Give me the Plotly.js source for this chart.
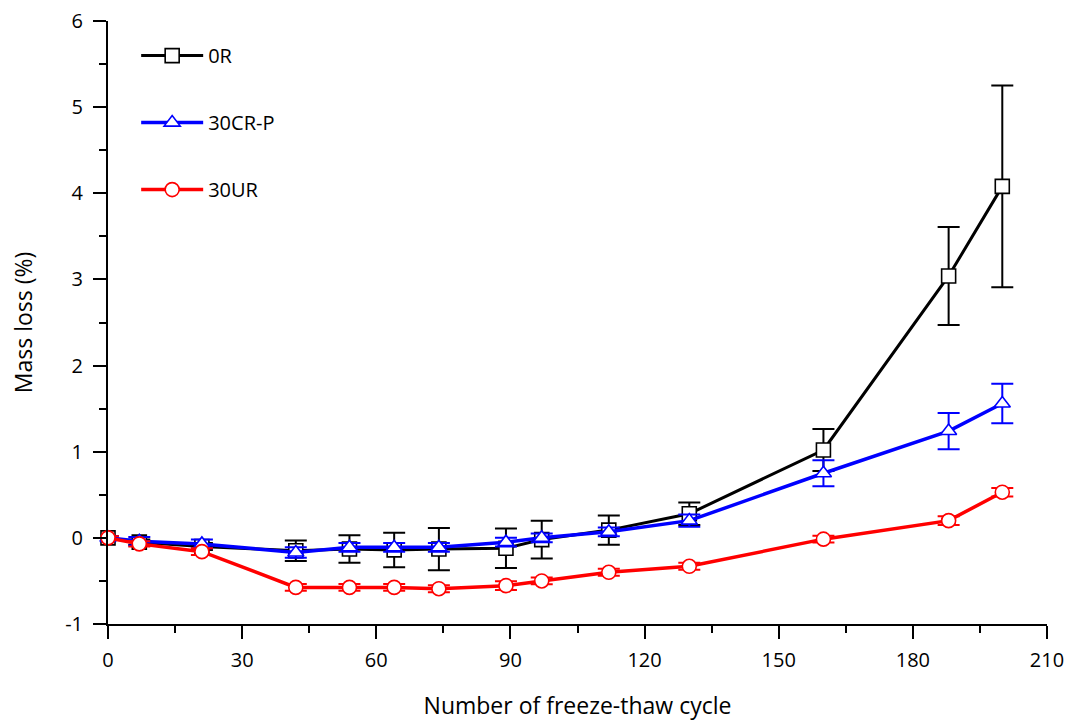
<!DOCTYPE html>
<html>
<head>
<meta charset="utf-8">
<script src="https://cdn.plot.ly/plotly-3.0.1.min.js"></script>
<style>
  body { margin: 0; background: #fff; }
  #chart { width: 1071px; height: 725px; }
</style>
</head>
<body>
<div id="chart"></div>
<script>
// freeze-thaw cycles
var cycles = [0, 7, 21, 42, 54, 64, 74, 89, 97, 112, 130, 160, 188, 200];

// mass loss (%) and error (+/-) per mix
var loss0R     = [0, -0.05, -0.10, -0.15, -0.13, -0.14, -0.13, -0.12, -0.02, 0.09, 0.28, 1.02, 3.04, 4.08];
var err0R      = [0.02, 0.03, 0.04, 0.12, 0.16, 0.20, 0.245, 0.23, 0.22, 0.17, 0.13, 0.245, 0.57, 1.17];

var loss30CRP  = [0, -0.04, -0.07, -0.17, -0.11, -0.11, -0.11, -0.05, 0.0, 0.07, 0.20, 0.75, 1.24, 1.56];
var err30CRP   = [0.02, 0.05, 0.05, 0.06, 0.05, 0.05, 0.05, 0.05, 0.05, 0.05, 0.07, 0.15, 0.21, 0.23];

var loss30UR   = [0, -0.07, -0.16, -0.575, -0.575, -0.575, -0.59, -0.555, -0.50, -0.40, -0.33, -0.015, 0.20, 0.53];
var err30UR    = [0.02, 0.03, 0.04, 0.04, 0.04, 0.04, 0.04, 0.05, 0.04, 0.04, 0.04, 0.04, 0.05, 0.05];

var seriesNames = ['0R', '30CR-P', '30UR'];
var yTicks = [-1, 0, 1, 2, 3, 4, 5, 6];
var yTickText = ['-1', '0', '1', '2', '3', '4', '5', '6'];

var font = '"Open Sans", "DejaVu Sans", sans-serif';

function makeTrace(name, y, err, color, symbol, lw) {
  return {
    x: cycles,
    y: y,
    name: name,
    type: 'scatter',
    mode: 'lines+markers',
    legendgroup: name,
    line: { color: color, width: lw },
    marker: { symbol: symbol, size: 14, color: '#ffffff', line: { color: color, width: 1.6 } },
    error_y: { type: 'data', array: err, visible: true, color: color, thickness: 2, width: 11 },
    cliponaxis: false
  };
}

var data = [
  makeTrace(seriesNames[0], loss0R, err0R, '#000000', 'square', 3),
  makeTrace(seriesNames[1], loss30CRP, err30CRP, '#0000ff', 'triangle-up', 3.5),
  makeTrace(seriesNames[2], loss30UR, err30UR, '#ff0000', 'circle', 3.5)
];

var layout = {
  width: 1071,
  height: 725,
  margin: { l: 108, r: 24, t: 21, b: 101 },
  paper_bgcolor: '#ffffff',
  plot_bgcolor: '#ffffff',
  font: { family: font, size: 20, color: '#000000' },
  showlegend: true,
  legend: {
    x: 0.03, y: 0.975, xanchor: 'left', yanchor: 'top',
    bgcolor: 'rgba(0,0,0,0)',
    font: { family: font, size: 20, color: '#000' },
    traceorder: 'grouped',
    tracegroupgap: 38,
    itemwidth: 62
  },
  xaxis: {
    range: [0, 210],
    tickmode: 'linear', tick0: 0, dtick: 30,
    ticks: 'outside', ticklen: 13, tickwidth: 2, tickcolor: '#000',
    minor: { dtick: 15, ticks: 'outside', ticklen: 7, tickwidth: 2, tickcolor: '#000' },
    ticklabelstandoff: 4,
    showline: true, linecolor: '#000', linewidth: 2,
    showgrid: false, zeroline: false,
    tickfont: { family: font, size: 20 },
    title: { text: 'Number of freeze-thaw cycle', font: { family: font, size: 23 }, standoff: 26 }
  },
  yaxis: {
    range: [-1, 6],
    tickmode: 'array', tickvals: yTicks, ticktext: yTickText,
    ticks: 'outside', ticklen: 13, tickwidth: 2, tickcolor: '#000',
    minor: { dtick: 0.5, ticks: 'outside', ticklen: 7, tickwidth: 2, tickcolor: '#000' },
    ticklabelstandoff: 6,
    showline: true, linecolor: '#000', linewidth: 2,
    showgrid: false, zeroline: false,
    tickfont: { family: font, size: 20 },
    title: { text: 'Mass loss (%)', font: { family: font, size: 23 }, standoff: 26 }
  },
  xaxis2: {
    overlaying: 'x', side: 'top', anchor: 'y',
    range: [0, 210], tickmode: 'linear', tick0: 0, dtick: 21,
    ticks: 'inside', ticklen: 5, tickwidth: 1.5, tickcolor: '#000',
    showticklabels: false, showline: true, linecolor: '#000', linewidth: 2,
    showgrid: false, zeroline: false
  },
  yaxis2: {
    overlaying: 'y', side: 'right', anchor: 'x',
    range: [-1, 6], tickmode: 'linear', tick0: -1, dtick: 0.7,
    ticks: 'inside', ticklen: 5, tickwidth: 1.5, tickcolor: '#000',
    showticklabels: false, showline: true, linecolor: '#000', linewidth: 2,
    showgrid: false, zeroline: false
  }
};

Plotly.newPlot('chart', data, layout, { displayModeBar: false, staticPlot: true });
</script>
</body>
</html>
